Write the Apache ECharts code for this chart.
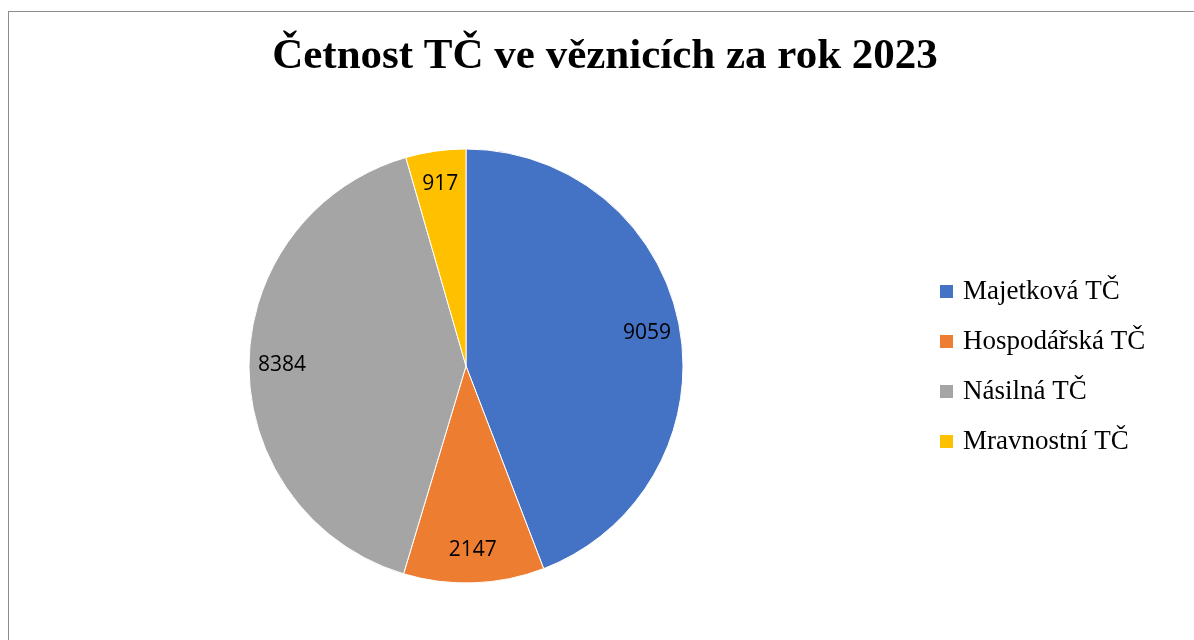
<!DOCTYPE html>
<html><head><meta charset="utf-8">
<script src="https://cdn.jsdelivr.net/npm/echarts@6/dist/echarts.min.js"></script>
<style>
html,body{margin:0;padding:0;background:#fff;overflow:hidden}
#frame{position:absolute;left:8px;top:11px;width:1200px;height:640px;border:1px solid #8c8c8c;box-sizing:border-box}
#chart{position:absolute;left:0;top:0;width:1194px;height:640px}
</style></head>
<body>
<div id="frame"></div>
<div id="chart"></div>
<script>
const titleText = 'Četnost TČ ve věznicích za rok 2023';
const categories = ['Majetková TČ', 'Hospodářská TČ', 'Násilná TČ', 'Mravnostní TČ'];
const values = [9059, 2147, 8384, 917];
const colors = ['#4472C4', '#ED7D31', '#A5A5A5', '#FFC000'];

const data = categories.map((c, i) => ({ name: c, value: values[i] }));
const chart = echarts.init(document.getElementById('chart'));
chart.setOption({
  animation: false,
  color: colors,
  title: {
    text: titleText,
    left: 605, top: 35, textAlign: 'center', padding: 0,
    textStyle: { fontFamily: 'Liberation Serif', fontWeight: 'bold', fontSize: 43, color: '#000' }
  },
  legend: {
    orient: 'vertical', left: 938, top: 278, padding: 0,
    itemWidth: 15, itemHeight: 15, itemGap: 23,
    icon: 'rect',
    data: categories,
    textStyle: { fontFamily: 'Liberation Serif', fontSize: 27, color: '#000', lineHeight: 27, padding: [0,0,0,4] }
  },
  series: [
    {
      type: 'pie', center: [466, 366], radius: [0, 217],
      startAngle: 90, clockwise: true, silent: true,
      itemStyle: { borderColor: '#fff', borderWidth: 1 },
      label: { show: false }, labelLine: { show: false },
      data: data
    },
    {
      type: 'pie', center: [466, 366], radius: [145, 217],
      startAngle: 90, clockwise: true, silent: true,
      itemStyle: { color: 'rgba(0,0,0,0)', borderWidth: 0 },
      label: { show: true, position: 'inside', formatter: '{c}',
        fontFamily: 'Open Sans', fontSize: 21, color: '#000' },
      labelLine: { show: false },
      data: data
    }
  ]
});
</script>
</body></html>
